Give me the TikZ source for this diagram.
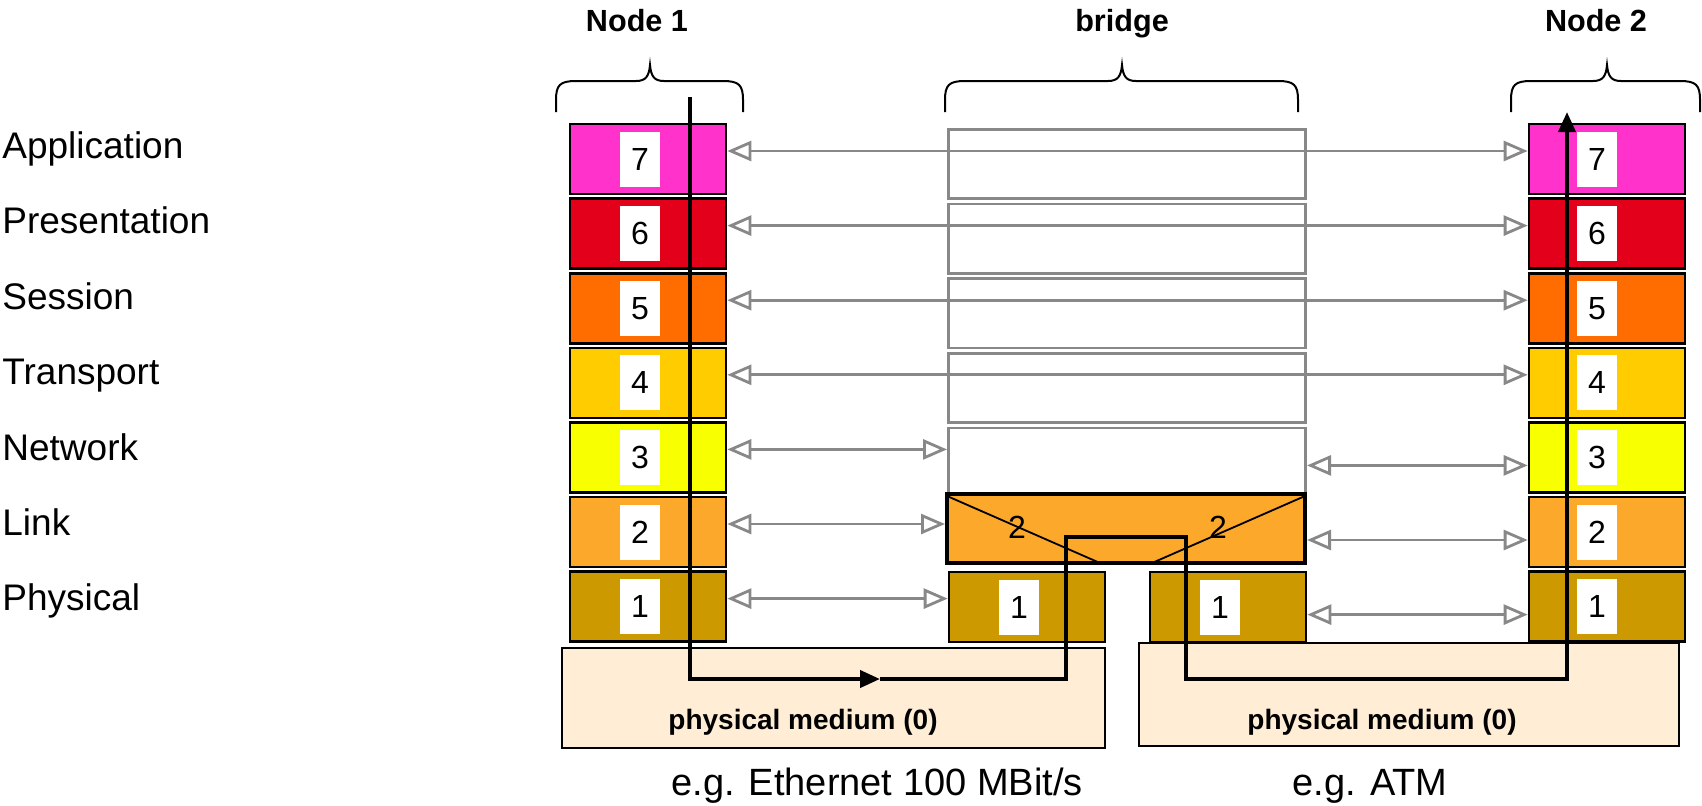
\documentclass[tikz,border=0pt]{standalone}
\usepackage{fontspec}
\setmainfont{Liberation Sans}
\usetikzlibrary{arrows.meta,positioning}
\definecolor{LayerApp}{HTML}{FF33CC}
\definecolor{LayerPres}{HTML}{E2001A}
\definecolor{LayerSess}{HTML}{FF6D00}
\definecolor{LayerTrans}{HTML}{FFCC00}
\definecolor{LayerNet}{HTML}{F7FF00}
\definecolor{LayerLink}{HTML}{FBA82B}
\definecolor{LayerPhys}{HTML}{CC9900}
\definecolor{MediumBg}{HTML}{FFEDD6}
\definecolor{PeerGray}{HTML}{888888}

\tikzset{
  layer/.style={draw=black, line width=1.3pt, minimum width=78pt, minimum height=35pt, inner sep=0pt},
  relay/.style={draw=PeerGray, line width=1.3pt, minimum width=178.7pt, minimum height=34.7pt, inner sep=0pt},
  digit/.style={fill=white, minimum width=20pt, minimum height=27.5pt, inner sep=0pt, font=\fontsize{16}{18}\selectfont},
  osiname/.style={anchor=base west, inner sep=0pt, font=\fontsize{18.5}{22}\selectfont},
  stacktitle/.style={anchor=base, inner sep=0pt, font=\fontsize{15.3}{18}\selectfont\bfseries},
  medium/.style={draw=black, line width=0.9pt, fill=MediumBg, inner sep=0pt},
  mediumtext/.style={anchor=base, inner sep=0pt, font=\fontsize{14}{17}\selectfont\bfseries},
  caption/.style={anchor=base, inner sep=0pt, font=\fontsize{19}{22}\selectfont},
  peer/.style={draw=PeerGray, line width=1.4pt, {Triangle[open,length=12pt,width=10pt]}-{Triangle[open,length=12pt,width=10pt]}},
  route/.style={draw=black, line width=2pt},
  brace/.style={draw=black, line width=1pt}
}

% curly brace over a stack: left end, tip, right end
\newcommand{\stackbrace}[3]{%
  \draw[brace] (#1,112) -- (#1,100) .. controls (#1,85) and ({#1+4},81) .. ({#1+20},81)
    -- ({#2-14},81) .. controls ({#2-4},81) and ({#2-1},76) .. (#2,65)
    .. controls ({#2+1},76) and ({#2+4},81) .. ({#2+14},81)
    -- ({#3-20},81) .. controls ({#3-4},81) and (#3,85) .. (#3,100) -- (#3,112);}

\begin{document}
\begin{tikzpicture}[x=0.5pt, y=-0.5pt, node distance=1pt]
    \useasboundingbox (0,0) rectangle (1702,805);

    % layer names
    \node[osiname] (n7) at (2,158) {Application};
    \node[osiname] (n6) at (2,233) {Presentation};
    \node[osiname] (n5) at (2,309) {Session};
    \node[osiname] (n4) at (2,384) {Transport};
    \node[osiname] (n3) at (2,460) {Network};
    \node[osiname] (n2) at (2,535) {Link};
    \node[osiname] (n1) at (2,610) {Physical};

    % titles and braces
    \node[stacktitle] (t1) at (637,31) {Node 1};
    \node[stacktitle] (t2) at (1122,31) {bridge};
    \node[stacktitle] (t3) at (1596,31) {Node 2};
    \stackbrace{556}{650}{743}
    \stackbrace{945}{1122}{1298}
    \stackbrace{1511}{1607}{1700}

    % physical media
    \node[medium, minimum width=271.5pt, minimum height=50pt] (m1) at (833.5,698) {};
    \node[medium, minimum width=270pt, minimum height=51.5pt] (m2) at (1409,694.5) {};
    \node[mediumtext] (m1t) at (803,729) {physical medium (0)};
    \node[mediumtext] (m2t) at (1382,729) {physical medium (0)};
    \node[caption] (c1) at (877,795) {e.g. Ethernet 100 MBit/s};
    \node[caption] (c2) at (1370,795) {e.g. ATM};

    % node 1
    \node[layer, fill=LayerApp] (a7) at (648,159) {};
    \node[layer, fill=LayerPres, below=of a7] (a6) {};
    \node[layer, fill=LayerSess, below=of a6] (a5) {};
    \node[layer, fill=LayerTrans, below=of a5] (a4) {};
    \node[layer, fill=LayerNet, below=of a4] (a3) {};
    \node[layer, fill=LayerLink, below=of a3] (a2) {};
    \node[layer, fill=LayerPhys, below=of a2] (a1) {};
    \node[digit] (a7d) at ([xshift=-4pt]a7.center) {7};
    \node[digit] (a6d) at ([xshift=-4pt]a6.center) {6};
    \node[digit] (a5d) at ([xshift=-4pt]a5.center) {5};
    \node[digit] (a4d) at ([xshift=-4pt]a4.center) {4};
    \node[digit] (a3d) at ([xshift=-4pt]a3.center) {3};
    \node[digit] (a2d) at ([xshift=-4pt]a2.center) {2};
    \node[digit] (a1d) at ([xshift=-4pt]a1.center) {1};

    % node 2
    \node[layer, fill=LayerApp] (b7) at (1607,159) {};
    \node[layer, fill=LayerPres, below=of b7] (b6) {};
    \node[layer, fill=LayerSess, below=of b6] (b5) {};
    \node[layer, fill=LayerTrans, below=of b5] (b4) {};
    \node[layer, fill=LayerNet, below=of b4] (b3) {};
    \node[layer, fill=LayerLink, below=of b3] (b2) {};
    \node[layer, fill=LayerPhys, below=of b2] (b1) {};
    \node[digit] (b7d) at ([xshift=-5pt]b7.center) {7};
    \node[digit] (b6d) at ([xshift=-5pt]b6.center) {6};
    \node[digit] (b5d) at ([xshift=-5pt]b5.center) {5};
    \node[digit] (b4d) at ([xshift=-5pt]b4.center) {4};
    \node[digit] (b3d) at ([xshift=-5pt]b3.center) {3};
    \node[digit] (b2d) at ([xshift=-5pt]b2.center) {2};
    \node[digit] (b1d) at ([xshift=-5pt]b1.center) {1};

    % bridge
    \node[relay] (g7) at (1127,164) {};
    \node[relay, below=1.33pt of g7] (g6) {};
    \node[relay, below=1.33pt of g6] (g5) {};
    \node[relay, below=1.33pt of g5] (g4) {};
    \node[relay, below=1.33pt of g4] (g3) {};
    \node[draw=black, line width=2pt, fill=LayerLink, minimum width=179pt, minimum height=34.5pt] (lk) at (1126,528.5) {};
    \draw[line width=0.9pt] ([shift={(1pt,-2pt)}]lk.north west) -- ([xshift=-13pt,yshift=1pt]lk.south);
    \draw[line width=0.9pt] ([shift={(-1pt,-2pt)}]lk.north east) -- ([xshift=13pt,yshift=1pt]lk.south);
    \node[inner sep=0pt, font=\fontsize{16}{18}\selectfont] (lk1) at (1017,527) {2};
    \node[inner sep=0pt, font=\fontsize{16}{18}\selectfont] (lk2) at (1218,527) {2};
    \node[layer, fill=LayerPhys] (p1) at (1027,607) {};
    \node[layer, fill=LayerPhys] (p2) at (1228,607) {};
    \node[digit] (p1d) at ([xshift=-4pt]p1.center) {1};
    \node[digit] (p2d) at ([xshift=-4pt]p2.center) {1};

    % peer protocols
    \draw[peer] ([yshift=4pt]a7.east) -- ([yshift=4pt]b7.west);
    \draw[peer] ([yshift=4pt]a6.east) -- ([yshift=4pt]b6.west);
    \draw[peer] ([yshift=4pt]a5.east) -- ([yshift=4pt]b5.west);
    \draw[peer] ([yshift=4pt]a4.east) -- ([yshift=4pt]b4.west);
    \draw[peer] ([yshift=4pt]a3.east) -- ([yshift=4pt]a3.east -| g3.west);
    \draw[peer] ([yshift=-4pt]b3.west -| g3.east) -- ([yshift=-4pt]b3.west);
    \draw[peer] ([yshift=4pt]a2.east) -- ([yshift=4pt]a2.east -| lk.west);
    \draw[peer] ([yshift=-4pt]b2.west -| lk.east) -- ([yshift=-4pt]b2.west);
    \draw[peer] ([yshift=4pt]a1.east) -- ([yshift=4pt]a1.east -| p1.west);
    \draw[peer] ([yshift=-4pt]b1.west -| p2.east) -- ([yshift=-4pt]b1.west);

    % data path
    \coordinate (src) at (690,97);
    \coordinate (mid) at (880,679);
    \coordinate (hop1) at (1066,537);
    \coordinate (hop2) at (1186,679);
    \coordinate (dst) at (1567,112);
    \draw[route, -{Triangle[length=10pt,width=8.5pt]}] (src) |- (mid);
    \draw[route, -{Triangle[length=10pt,width=8.5pt]}] (mid) -| (hop1) -| (hop2) -| (dst);
\end{tikzpicture}
\end{document}
